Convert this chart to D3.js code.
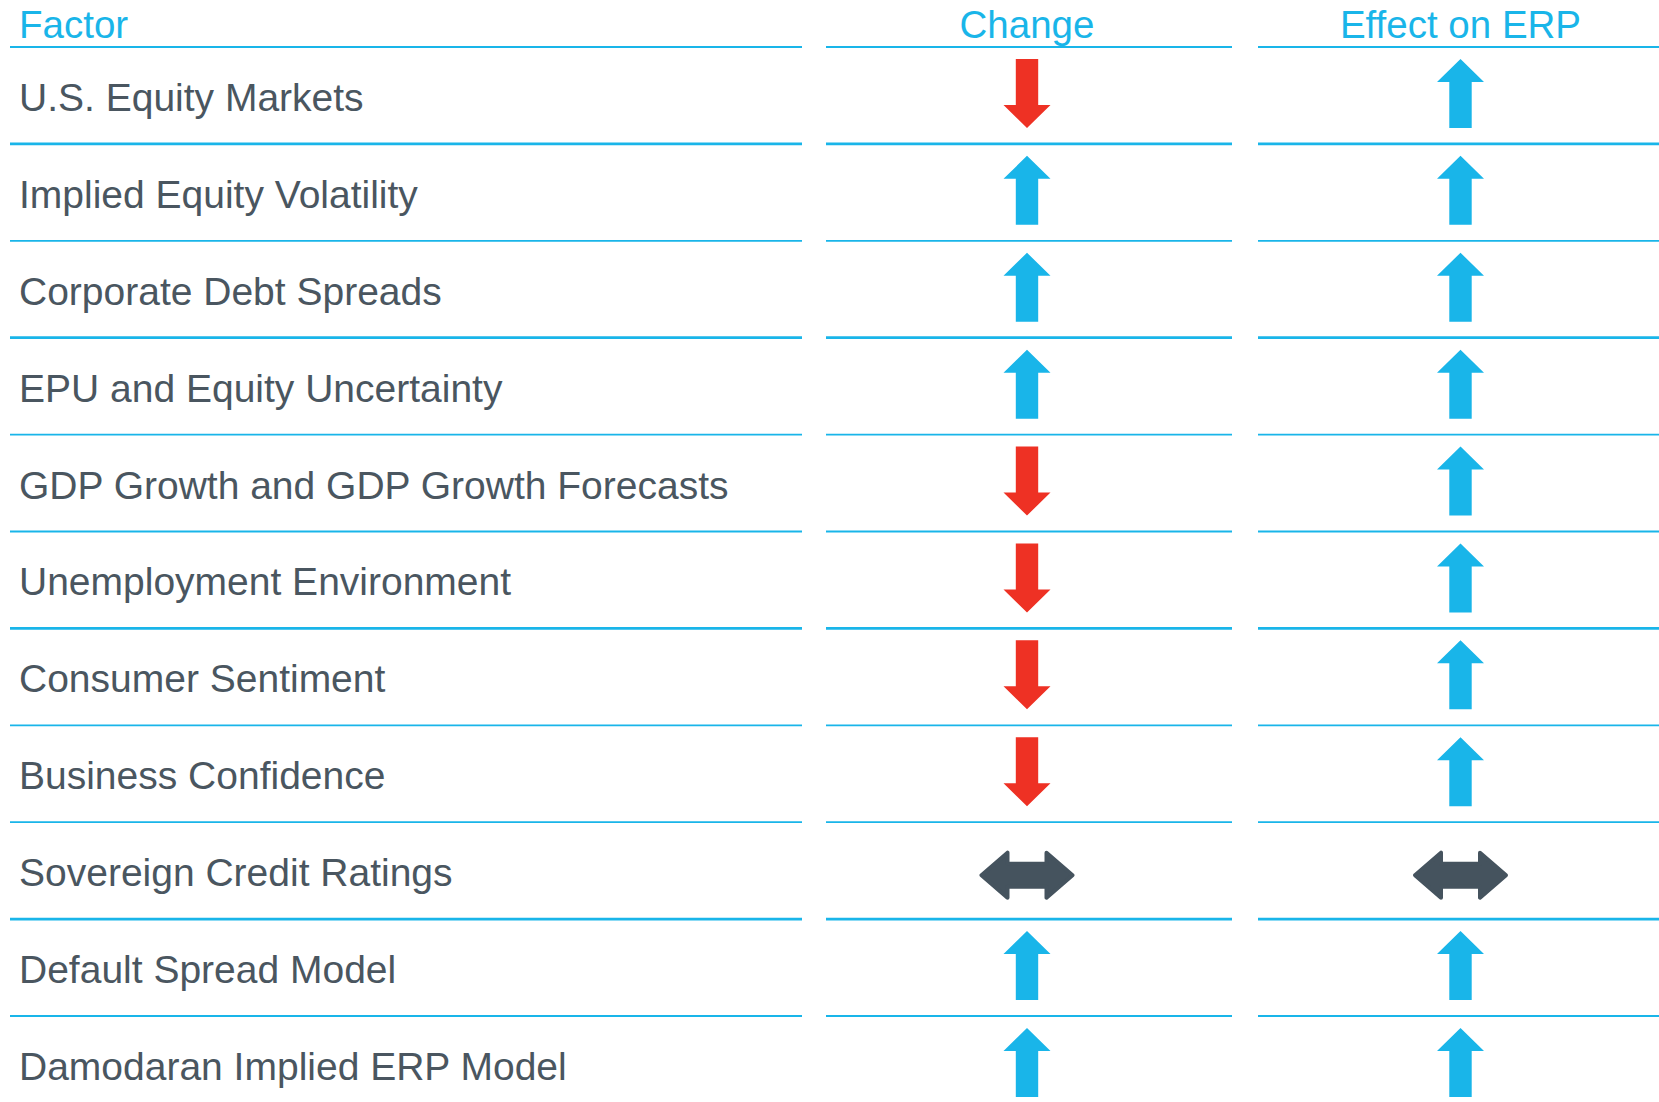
<!DOCTYPE html>
<html>
<head>
<meta charset="utf-8">
<script src="https://cdn.jsdelivr.net/npm/d3@7"></script>
<style>
  body { margin: 0; background: #fff; }
  text { font-family: "Liberation Sans", Arial, sans-serif; }
</style>
</head>
<body>
<div id="chart"></div>
<script>
var columns = ["Factor", "Change", "Effect on ERP"];
var factors = [
  "U.S. Equity Markets",
  "Implied Equity Volatility",
  "Corporate Debt Spreads",
  "EPU and Equity Uncertainty",
  "GDP Growth and GDP Growth Forecasts",
  "Unemployment Environment",
  "Consumer Sentiment",
  "Business Confidence",
  "Sovereign Credit Ratings",
  "Default Spread Model",
  "Damodaran Implied ERP Model"
];
var change = ["down", "up", "up", "up", "down", "down", "down", "down", "flat", "up", "up"];
var effect = ["up", "up", "up", "up", "up", "up", "up", "up", "flat", "up", "up"];

var W = 1659, H = 1102;
var cyan = "#19b5e9", red = "#ee3124", slate = "#45535e", textCol = "#4a5660";
var top_line = 47, row_h = 96.9;

var svg = d3.select("#chart").append("svg")
  .attr("width", W).attr("height", H);

var y = d3.scaleBand().domain(factors)
  .range([top_line, top_line + row_h * factors.length]).padding(0);

// column extents and centres
var colStart = d3.scaleOrdinal().domain(columns).range([10, 826, 1258]);
var colEnd = d3.scaleOrdinal().domain(columns).range([802, 1232, W]);
var colMid = d3.scaleOrdinal().domain(columns).range([19, 1027, 1460.5]);

// header
svg.selectAll("text.head")
  .data(columns)
  .enter().append("text")
  .attr("class", "head")
  .attr("x", function(d) { return colMid(d) })
  .attr("y", 38)
  .attr("text-anchor", function(d, i) { return i == 0 ? "start" : "middle" })
  .style("font-size", "38.5px")
  .style("fill", cyan)
  .text(function(d) { return d });

// separator lines: header line + bottom of every row
var lineYs = [top_line].concat(factors.map(function(f) { return y(f) + y.bandwidth() }));
var thick = [1, 3, 6, 9];
columns.forEach(function(c) {
  svg.selectAll("line.sep-" + columns.indexOf(c))
    .data(lineYs)
    .enter().append("line")
    .attr("x1", colStart(c))
    .attr("x2", colEnd(c))
    .attr("y1", function(d) { return d })
    .attr("y2", function(d) { return d })
    .style("stroke", cyan)
    .style("stroke-width", function(d, i) { return thick.indexOf(i) >= 0 ? 2.7 : 1.8 });
});

// factor labels
svg.selectAll("text.factor")
  .data(factors)
  .enter().append("text")
  .attr("class", "factor")
  .attr("x", colMid("Factor"))
  .attr("y", function(d) { return y(d) + y.bandwidth() / 2 + 15.5 })
  .style("font-size", "39px")
  .style("fill", textCol)
  .text(function(d) { return d });

function arrowPath(kind, cx, cy) {
  var p = d3.path();
  if (kind == "flat") {
    // double arrow, drawn slightly inset; stroke rounds the corners
    var hw = 45.5, hh = 22.5, sh = 11.5, hl = 26;
    cy = cy + 4.5;
    p.moveTo(cx - hw, cy);
    p.lineTo(cx - hw + hl, cy - hh);
    p.lineTo(cx - hw + hl, cy - sh);
    p.lineTo(cx + hw - hl, cy - sh);
    p.lineTo(cx + hw - hl, cy - hh);
    p.lineTo(cx + hw, cy);
    p.lineTo(cx + hw - hl, cy + hh);
    p.lineTo(cx + hw - hl, cy + sh);
    p.lineTo(cx - hw + hl, cy + sh);
    p.lineTo(cx - hw + hl, cy + hh);
    p.closePath();
    return p.toString();
  }
  var dir = kind == "up" ? -1 : 1;
  var half = 34.5, head = 23, hw2 = 23.5, sw = 11.2;
  cy = cy - 2;
  var tip = cy + dir * half, base = cy - dir * half, neck = tip - dir * head;
  p.moveTo(cx, tip);
  p.lineTo(cx + hw2, neck);
  p.lineTo(cx + sw, neck);
  p.lineTo(cx + sw, base);
  p.lineTo(cx - sw, base);
  p.lineTo(cx - sw, neck);
  p.lineTo(cx - hw2, neck);
  p.closePath();
  return p.toString();
}

function arrowColor(kind) {
  return kind == "up" ? cyan : (kind == "down" ? red : slate);
}

[["Change", change], ["Effect on ERP", effect]].forEach(function(pair) {
  var col = pair[0], vals = pair[1];
  svg.selectAll("path.arrow-" + columns.indexOf(col))
    .data(vals)
    .enter().append("path")
    .attr("d", function(d, i) { return arrowPath(d, colMid(col), y(factors[i]) + y.bandwidth() / 2) })
    .style("fill", arrowColor)
    .style("stroke", function(d) { return d == "flat" ? arrowColor(d) : "none" })
    .style("stroke-width", 4)
    .style("stroke-linejoin", "round");
});
</script>
</body>
</html>
